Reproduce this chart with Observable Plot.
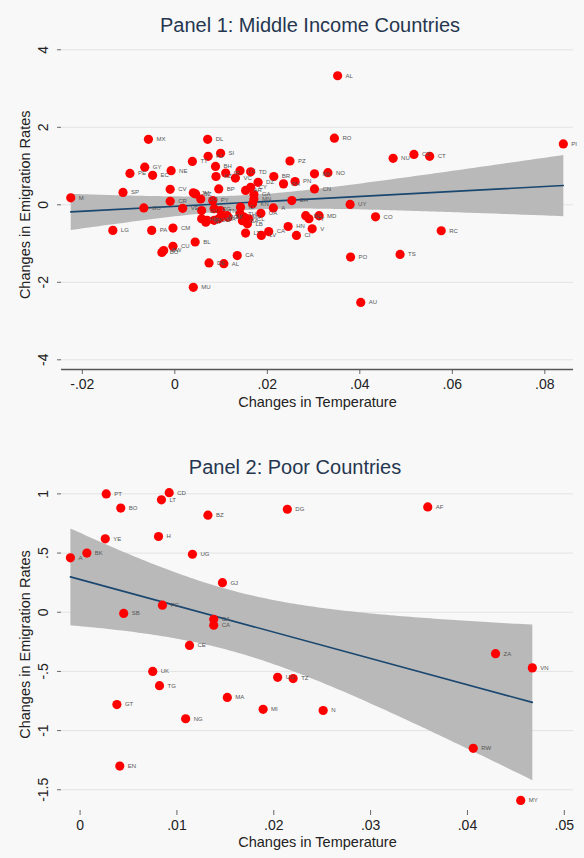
<!DOCTYPE html>
<html><head><meta charset="utf-8">
<script src="https://cdn.jsdelivr.net/npm/d3@7"></script>
<script src="https://cdn.jsdelivr.net/npm/@observablehq/plot@0.6"></script>
<style>
body{margin:0;background:#f8f8f8;font-family:"Liberation Sans",Arial,sans-serif;}
#wrap{position:relative;width:584px;height:858px;overflow:hidden;background:#f8f8f8;}
.title{position:absolute;left:0;width:584px;text-align:center;font-size:20px;color:#25364f;line-height:24px;white-space:nowrap;}
.panel{position:absolute;left:0;}
</style></head><body>
<div id="wrap">
<div class="panel" id="p1" style="top:0px"></div>
<div class="panel" id="p2" style="top:430px"></div>
<div class="title" style="top:13px;left:18px">Panel 1: Middle Income Countries</div>
<div class="title" style="top:455px;left:3px">Panel 2: Poor Countries</div>
</div>
<script>
// ---------- Panel 1: Middle income countries ----------
const countries1 = ["M","SP","LG","PE","GY","EC","MX","GU","PA","BO","BW","NE","CV","CR","CM","CU","VE","TT","JM","BZ","BL","MU","DO","SV","HN","NI","DL","FJ","DE","BH","KZ","BP","SI","AL","PY","EG","TN","MA","JO","SY","IR","CA","VC","LC","TD","DZ","CY","AR","BR","PH","PZ","PN","MK","NO","CN","RO","EH","UY","PO","MN","KN","GA","PK","LK","ID","TH","MY","CL","BA","LB","LT","UA","A","LV","CA","HN","CI","BG","TY","MD","V","CO","RC","TS","AU","AL","NU","CZ","CT","PI","MG"];
const temp1 = [-0.0225,-0.0112,-0.0134,-0.0097,-0.0065,-0.0048,-0.0057,-0.0067,-0.005,-0.0028,-0.0024,-0.0008,-0.001,-0.001,-0.0004,-0.0004,0.0017,0.0038,0.004,0.0045,0.0044,0.004,0.0056,0.0058,0.0058,0.0067,0.0071,0.0072,0.0074,0.0088,0.0089,0.0095,0.0099,0.0106,0.0082,0.0085,0.0099,0.0095,0.0085,0.0113,0.011,0.0135,0.0131,0.0141,0.0164,0.018,0.0164,0.0153,0.0214,0.0235,0.0249,0.026,0.0302,0.0331,0.0302,0.0345,0.0253,0.0379,0.038,0.0171,0.0168,0.0171,0.007,0.0115,0.0142,0.0141,0.015,0.016,0.0146,0.0157,0.0153,0.0186,0.0213,0.0187,0.0203,0.0245,0.0263,0.0283,0.029,0.0312,0.0297,0.0434,0.0576,0.0487,0.0402,0.0352,0.0472,0.0517,0.0551,0.084,0.0099];
const emig1 = [0.18,0.32,-0.66,0.81,0.97,0.76,1.69,-0.08,-0.66,-1.23,-1.18,0.88,0.40,0.09,-0.60,-1.07,-0.09,1.12,0.31,0.28,-0.96,-2.13,0.15,-0.15,-0.36,-0.45,1.69,1.25,-1.50,0.99,0.73,0.41,1.33,-1.52,0.11,-0.10,-0.15,-0.36,-0.40,-0.28,0.82,-1.31,0.69,0.88,0.85,0.58,0.45,0.37,0.73,0.54,1.13,0.60,0.80,0.83,0.41,1.72,0.11,0.01,-1.35,0.15,0.03,0.27,-0.40,-0.32,-0.06,-0.23,-0.32,-0.36,-0.41,-0.49,-0.73,-0.22,-0.08,-0.79,-0.69,-0.56,-0.79,-0.28,-0.36,-0.28,-0.62,-0.31,-0.67,-1.28,-2.52,3.33,1.20,1.30,1.25,1.57,-0.32];
const xTicks1 = [-0.02, 0, 0.02, 0.04, 0.06, 0.08];
const xTickLabels1 = ["-.02", "0", ".02", ".04", ".06", ".08"];
const yTicks1 = [4, 2, 0, -2, -4];
const yTickLabels1 = ["4", "2", "0", "-2", "-4"];

// ---------- Panel 2: Poor countries ----------
const countries2 = ["A","BK","PT","BO","YE","SB","CD","LT","H","BZ","UG","GJ","PG","CA","CA","DG","AF","CE","UK","TG","GT","NG","MA","MI","UG","TZ","EN","N","ZA","VN","RW","MY"];
const temp2 = [-0.001,0.0007,0.0027,0.0042,0.0026,0.0045,0.0092,0.0084,0.0081,0.0132,0.0116,0.0147,0.0085,0.0138,0.0138,0.0214,0.0359,0.0113,0.0075,0.0082,0.0038,0.0109,0.0152,0.0189,0.0204,0.022,0.0041,0.0251,0.0429,0.0467,0.0406,0.0455];
const emig2 = [0.46,0.50,1.00,0.88,0.62,-0.01,1.01,0.95,0.64,0.82,0.49,0.25,0.06,-0.06,-0.11,0.87,0.89,-0.28,-0.50,-0.62,-0.78,-0.90,-0.72,-0.82,-0.55,-0.56,-1.30,-0.83,-0.35,-0.47,-1.15,-1.59];
const xTicks2 = [0, 0.01, 0.02, 0.03, 0.04, 0.05];
const xTickLabels2 = ["0", ".01", ".02", ".03", ".04", ".05"];
const yTicks2 = [1, 0.5, 0, -0.5, -1, -1.5];
const yTickLabels2 = ["1", ".5", "0", "-.5", "-1", "-1.5"];

const FONT = "Liberation Sans, Arial, sans-serif";

function panel({names, xs, ys, xTicks, xLabels, yTicks, yLabels, height, mt, mb, xDomain, yDomain, axisLine, xTitleDy}) {
  const data = names.map((n, i) => ({name: n, x: xs[i], y: ys[i]}));
  const yTickData = yTicks.map((v, i) => ({v, t: yLabels[i]}));
  const marks = [
    Plot.ruleY(yTicks, {stroke: "#e3e3e3", strokeWidth: 1}),
    Plot.linearRegressionY(data, {x: "x", y: "y", ci: 0.95, stroke: "#1a476f", strokeWidth: 1.6, fill: "#b9b9b9", fillOpacity: 1}),
    Plot.dot(data, {x: "x", y: "y", r: 4.6, fill: "#ff0000", stroke: "none"}),
    Plot.text(data, {x: "x", y: "y", text: "name", dx: 8, textAnchor: "start", fontSize: 6, fill: "#555"}),
    Plot.axisY(yTicks, {tickSize: 4, tickFormat: () => "", stroke: "#666", strokeWidth: 1}),
    Plot.text(yTickData, {y: "v", text: "t", frameAnchor: "left", dx: -18, rotate: -90, textAnchor: "middle", lineAnchor: "middle", fontSize: 14, fill: "#222"}),
    Plot.axisX(xTicks, {tickSize: 5, tickPadding: 5, tickFormat: (d, i) => xLabels[i], fontSize: 14, fill: "#222", stroke: "#666", label: null}),
    Plot.text(["Changes in Temperature"], {frameAnchor: "bottom", dy: xTitleDy, text: d => d, fontSize: 14.5, fill: "#222", lineAnchor: "middle"}),
    Plot.text(["Changes in Emigration Rates"], {frameAnchor: "left", dx: -36, rotate: -90, text: d => d, fontSize: 14.5, fill: "#222", textAnchor: "middle", lineAnchor: "middle"})
  ];
  if (axisLine) marks.push(Plot.ruleY([yDomain[0]], {stroke: "#555", strokeWidth: 1.6}));
  return Plot.plot({
    width: 584, height,
    marginTop: mt, marginBottom: mb, marginLeft: 61, marginRight: 11,
    style: {background: "transparent", fontFamily: FONT, overflow: "visible"},
    x: {domain: xDomain, axis: null},
    y: {domain: yDomain, axis: null},
    marks
  });
}

document.getElementById("p1").append(panel({
  names: countries1, xs: temp1, ys: emig1,
  xTicks: xTicks1, xLabels: xTickLabels1, yTicks: yTicks1, yLabels: yTickLabels1,
  height: 420, mt: 39.6, mb: 51, xDomain: [-0.0245, 0.0862], yDomain: [-4.25, 4.25], axisLine: true, xTitleDy: 33
}));
document.getElementById("p2").append(panel({
  names: countries2, xs: temp2, ys: emig2,
  xTicks: xTicks2, xLabels: xTickLabels2, yTicks: yTicks2, yLabels: yTickLabels2,
  height: 428, mt: 48, mb: 48, xDomain: [-0.00192, 0.05095], yDomain: [-1.675, 1.13], axisLine: false, xTitleDy: 32
}));
</script>
</body></html>
